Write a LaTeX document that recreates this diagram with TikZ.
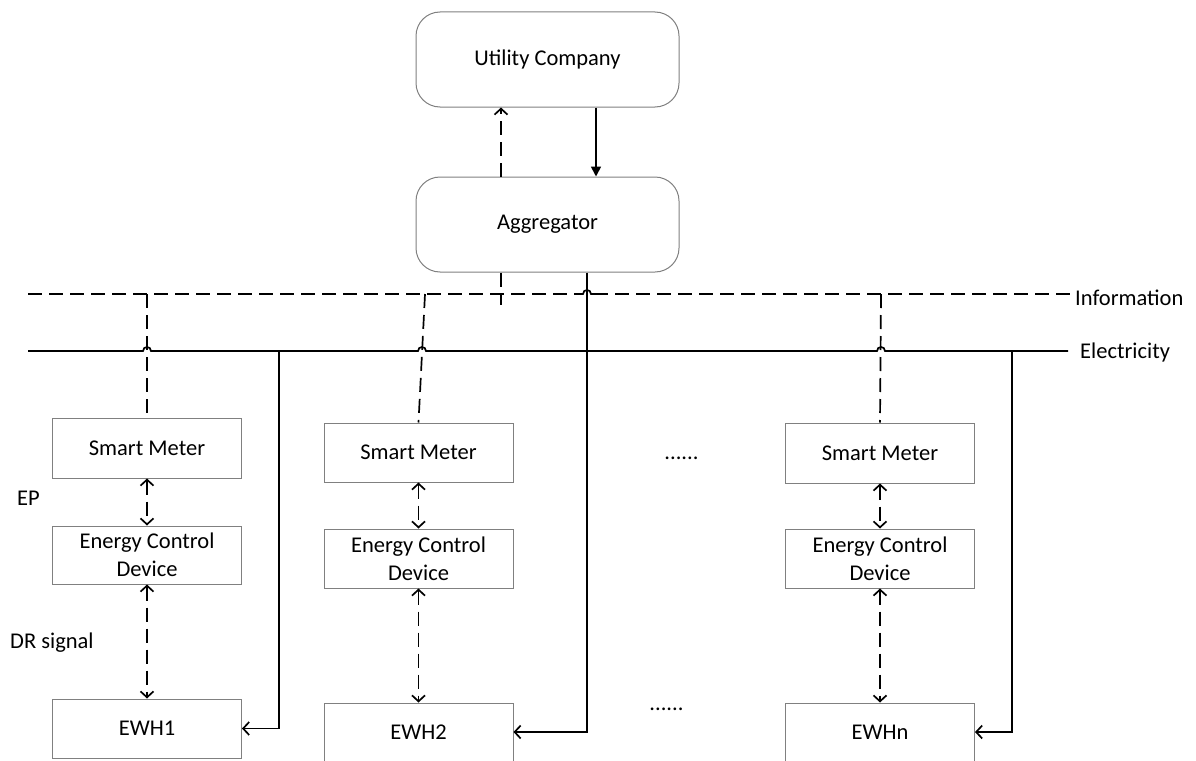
\documentclass[tikz,border=0pt]{standalone}
\usepackage{fontspec}
\setmainfont{Carlito}
\usetikzlibrary{arrows.meta}
\begin{document}
\begin{tikzpicture}[x=1pt,y=-1pt,
  txt/.style={font=\fontsize{22.5}{28}\selectfont},
  box/.style={txt, draw=black!50, line width=1pt, minimum width=189pt,
    inner sep=0pt, align=center},
  rbox/.style={txt, draw=black!50, line width=1pt, rounded corners=24pt,
    minimum width=263pt, minimum height=95pt},
  infoline/.style={line width=1.7pt, dash pattern=on 14pt off 7pt},
  powerline/.style={line width=1.7pt},
  hop/.style={line width=1.7pt},
  barb/.style={-{Straight Barb[length=6pt,width=13pt]}},
  dbarb/.style={{Straight Barb[length=6pt,width=13pt]}-{Straight Barb[length=6pt,width=13pt]}},
  lbl/.style={txt, anchor=west, inner sep=0pt}
]
\useasboundingbox (0,0) rectangle (1196,760);

% upper level
\node[rbox] (uc)  at (547.5,59.5)  {Utility Company};
\node[rbox] (agg) at (547.5,224.5) {Aggregator};

% households
\node[box, minimum height=60pt] (sm1)  at (147,448)   {Smart Meter};
\node[box, minimum height=58pt] (ecd1) at (147,555)   {Energy Control\\Device};
\node[box, minimum height=59pt] (ewh1) at (147,728.5) {EWH1};

\node[box, minimum height=59pt] (sm2)  at (418.5,452.5) {Smart Meter};
\node[box, minimum height=59pt] (ecd2) at (418.5,558.5) {Energy Control\\Device};
\node[box, minimum height=58pt] (ewh2) at (418.5,732)   {EWH2};

\node[box, minimum height=60pt] (smn)  at (880,453)   {Smart Meter};
\node[box, minimum height=59pt] (ecdn) at (880,558.5) {Energy Control\\Device};
\node[box, minimum height=58pt] (ewhn) at (880,732)   {EWHn};

% labels
\node[lbl] (linfo) at (1075,298) {Information};
\node[lbl] (lelec) at (1080,352) {Electricity};
\node[lbl] (lep)   at (17,498)   {EP};
\node[lbl] (ldr)   at (10,643)   {DR signal};
\node[txt] (dots1) at (681.5,458) {......};
\node[txt] (dots2) at (666.5,709) {......};

% junction points on the bus lines
\coordinate (i1) at (147,294);
\coordinate (i2) at (425,294);
\coordinate (i3) at (881,294);
\coordinate (e1) at (279,351);
\coordinate (e3) at (1012,351);

% information bus, jumping over the aggregator feeder
\draw[infoline] (28,294) -- (583,294);
\draw[hop] (580,294) -- (583,294)
  .. controls (583,288.7) and (591,288.7) .. (591,294) -- (594,294);
\draw[infoline] (594,294) -- (1070,294);

% electricity bus, jumping over the information drops
\draw[powerline] (28,351) -- (143,351)
  .. controls (143,345.7) and (151,345.7) .. (151,351) -- (418,351)
  .. controls (418,345.7) and (426,345.7) .. (426,351) -- (877,351)
  .. controls (877,345.7) and (885,345.7) .. (885,351) -- (1068,351);

% utility company <-> aggregator
\draw[infoline, barb] ([xshift=-46.5pt]agg.north) -- ([xshift=-46.5pt]uc.south);
\draw[powerline, -{Triangle[length=10pt,width=10pt]}]
  ([xshift=48.5pt]uc.south) -- ([xshift=48.5pt]agg.north);

% aggregator to the buses
\draw[infoline] ([xshift=-46.5pt]agg.south) -- ++(0,32);
\draw[powerline, barb] ([xshift=39.5pt]agg.south) |- (ewh2.east);

% information drops
\draw[infoline] (i1) -- (sm1.north);
\draw[infoline] (i2) -- (sm2.north);
\draw[infoline] (i3) -- (smn.north);

% power feeders
\draw[powerline, barb] (e1) |- (ewh1.east);
\draw[powerline, barb] (e3) |- (ewhn.east);

% in-house signalling
\draw[infoline, dbarb] (sm1.south) -- (ecd1.north);
\draw[infoline, dbarb] (ecd1.south) -- (ewh1.north);
\draw[infoline, dbarb] (sm2.south) -- (ecd2.north);
\draw[infoline, dbarb] (ecd2.south) -- (ewh2.north);
\draw[infoline, dbarb] (smn.south) -- (ecdn.north);
\draw[infoline, dbarb] (ecdn.south) -- (ewhn.north);
\end{tikzpicture}
\end{document}
